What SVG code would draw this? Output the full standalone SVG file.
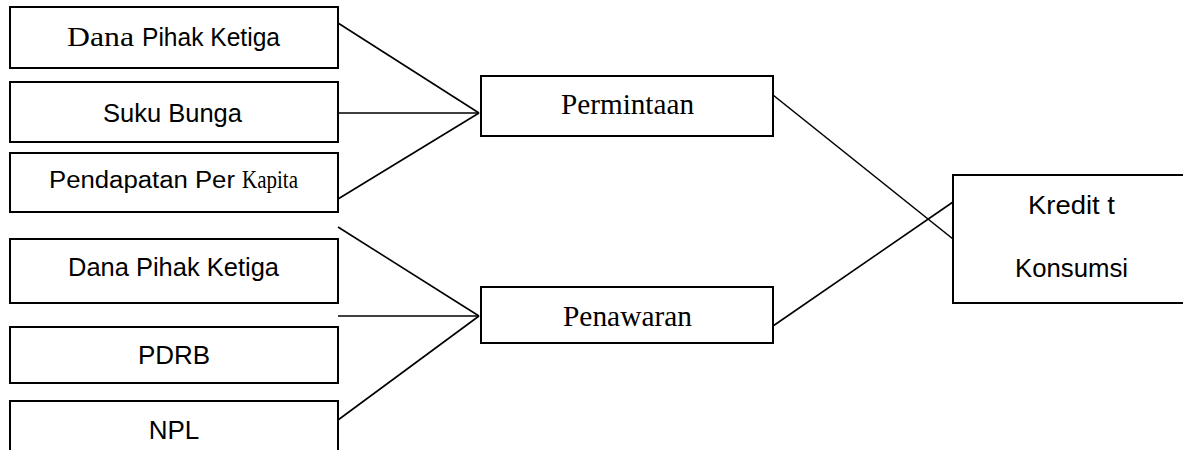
<svg xmlns="http://www.w3.org/2000/svg" width="1183" height="450" viewBox="0 0 1183 450">
<style>
.box{fill:#fff;stroke:#000;stroke-width:2}
.ln{stroke:#000;stroke-width:1.6;fill:none}
.sans{font-family:"Liberation Sans",Arial,sans-serif;font-size:26px;fill:#000}
.serif{font-family:"Liberation Serif","Times New Roman",serif;font-size:29px;fill:#000}
</style>
<rect width="1183" height="450" fill="#fff"/>
<g id="connectors">
<line class="ln" x1="338" y1="23" x2="479" y2="113"/>
<line class="ln" x1="338" y1="113" x2="479" y2="113"/>
<line class="ln" x1="338" y1="199" x2="479" y2="113"/>
<line class="ln" x1="338" y1="227" x2="479" y2="316"/>
<line class="ln" x1="338" y1="316" x2="479" y2="316"/>
<line class="ln" x1="338" y1="420" x2="479" y2="316"/>
<line class="ln" x1="773" y1="95" x2="953" y2="239"/>
<line class="ln" x1="773" y1="326" x2="953" y2="202"/>
</g>
<g id="n1"><rect class="box" x="10" y="7" width="328" height="61"/>
<text class="serif" x="67" y="46" textLength="67" lengthAdjust="spacingAndGlyphs" style="font-size:28px">Dana</text>
<text class="sans" x="142" y="46" textLength="138" lengthAdjust="spacingAndGlyphs">Pihak Ketiga</text></g>
<g id="n2"><rect class="box" x="10" y="82" width="328" height="60"/>
<text class="sans" x="103" y="122" textLength="139" lengthAdjust="spacingAndGlyphs">Suku Bunga</text></g>
<g id="n3"><rect class="box" x="10" y="153" width="328" height="59"/>
<text class="sans" x="49" y="188" textLength="186" lengthAdjust="spacingAndGlyphs" style="font-size:23px">Pendapatan Per</text>
<text class="serif" x="242" y="188" textLength="56" lengthAdjust="spacingAndGlyphs" style="font-size:25px">Kapita</text></g>
<g id="n4"><rect class="box" x="10" y="239" width="328" height="64"/>
<text class="sans" x="68" y="276" textLength="211" lengthAdjust="spacingAndGlyphs">Dana Pihak Ketiga</text></g>
<g id="n5"><rect class="box" x="10" y="327" width="328" height="56"/>
<text class="sans" x="174" y="364" text-anchor="middle">PDRB</text></g>
<g id="n6"><rect class="box" x="10" y="401" width="328" height="60"/>
<text class="sans" x="174" y="439" text-anchor="middle">NPL</text></g>
<g id="permintaan"><rect class="box" x="481" y="76" width="292" height="60"/>
<text class="serif" x="561" y="114" textLength="133" lengthAdjust="spacingAndGlyphs">Permintaan</text></g>
<g id="penawaran"><rect class="box" x="481" y="287" width="292" height="56"/>
<text class="serif" x="563" y="326" textLength="129" lengthAdjust="spacingAndGlyphs">Penawaran</text></g>
<g id="kredit"><rect class="box" x="953" y="175" width="240" height="128"/>
<text class="sans" x="1028" y="214" textLength="87" lengthAdjust="spacingAndGlyphs">Kredit t</text>
<text class="sans" x="1015" y="277" textLength="113" lengthAdjust="spacingAndGlyphs">Konsumsi</text></g>
</svg>
